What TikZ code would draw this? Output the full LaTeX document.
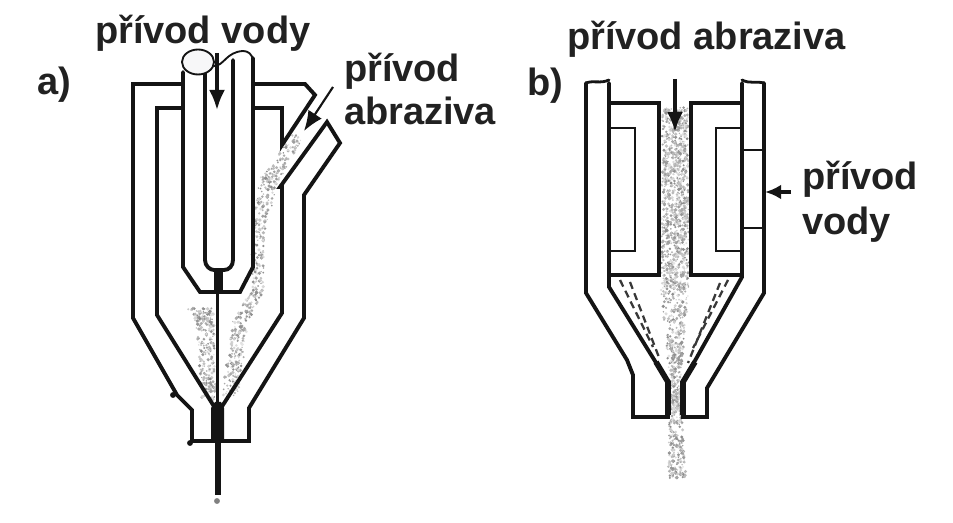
\documentclass[tikz,border=0pt]{standalone}
\usepackage{fontspec}
\setmainfont{Liberation Sans}
\usetikzlibrary{arrows.meta}
\definecolor{ink}{gray}{0.08}
\definecolor{cap}{gray}{0.13}
\tikzset{
  wall/.style={draw=ink,line width=2.9pt,line join=miter,line cap=round},
  thinwall/.style={draw=ink,line width=2.1pt,line join=miter,line cap=round},
  hair/.style={draw=ink,line width=1.4pt,line cap=round},
  dash wall/.style={draw=ink!85,line width=1.7pt,dash pattern=on 5.5pt off 3.5pt},
  flow/.style={draw=ink,line width=2.5pt,-{Latex[length=15pt,width=12pt]}},
  caption/.style={font=\fontsize{28.5pt}{30pt}\selectfont\bfseries,text=cap,anchor=base west,inner sep=0pt,outer sep=0pt}
}
% grit scattered along a segment: x0 y0 halfwidth0 x1 y1 halfwidth1 count
\newcommand{\gritseg}[7]{%
  \foreach \k in {1,...,#7}{%
    \pgfmathsetmacro{\gt}{rnd}%
    \pgfmathsetmacro{\gw}{(#3+(#6-#3)*\gt)*(2*rnd-1)}%
    \pgfmathsetmacro{\gx}{#1+(#4-#1)*\gt+\gw}%
    \pgfmathsetmacro{\gy}{#2+(#5-#2)*\gt+4*(rnd-0.5)}%
    \pgfmathsetmacro{\gr}{0.5+0.9*rnd}%
    \pgfmathsetmacro{\gc}{10+36*rnd}%
    \fill[black!\gc] (\gx,\gy) circle (\gr pt);
  }}
\begin{document}
\begin{tikzpicture}[x=0.75pt,y=-0.75pt]
\useasboundingbox (0,0) rectangle (953,523);
\fill[white] (0,0) rectangle (953,523);
\pgfmathsetseed{4711}
% ---------- grit a)
\gritseg{298}{136}{6}{268}{182}{10}{110}
\gritseg{268}{182}{10}{258}{235}{6}{100}
\gritseg{258}{235}{6}{258}{290}{6}{80}
\gritseg{258}{290}{6}{240}{325}{8}{80}
\gritseg{240}{325}{8}{230}{395}{8}{170}
\gritseg{200}{308}{13}{205}{322}{9}{80}
\gritseg{205}{322}{9}{209}{398}{7}{190}
% ---------- grit b)
\gritseg{675}{108}{13}{675}{290}{14}{1000}
\gritseg{675}{290}{14}{675}{385}{5}{280}
\gritseg{675}{385}{5}{677}{478}{9}{300}
% ---------- figure a) housing
\draw[wall] (183,84) -- (133,84) -- (133,318) -- (177,395) -- (192,410) -- (192,441) -- (249,441) -- (249,408) -- (304,318) -- (304,195) -- (340,143) -- (327,122) -- (280,187) -- (282,187) -- (282,313) -- (221,408);
\draw[wall] (183,108) -- (157,108) -- (157,315) -- (215,408);
\draw[wall] (253,84) -- (305,84) -- (315,95) -- (282,145) -- (282,108) -- (253,108);
% ---------- figure a) water tube
\draw[wall] (183,72) -- (183,267) -- (200,292) -- (240,292) -- (253,267) -- (253,58);
\draw[wall] (205,72) -- (205,260) .. controls (205,266) and (210,270) .. (214,270) -- (224,270) .. controls (229,270) and (233,266) .. (233,260) -- (233,60);
\draw[hair,fill=blue!2!black!3] (198,62) ellipse (16 and 12.5);
\draw[hair] (214,66) .. controls (224,66) and (226,52) .. (243,51) .. controls (248,51) and (252,54) .. (253,60);
% ---------- figure a) jet
\fill[ink] (214,270) rectangle (223,292);
\draw[ink,line width=2.8pt] (217.5,292) -- (217.5,410);
\fill[ink] (211,408) -- (215,402) -- (221,402) -- (224,408) -- (224,441) -- (211,441) -- cycle;
\draw[ink,line width=4.4pt] (218,441) -- (218,495);
\fill[ink] (173,395) circle (2.2pt);
\fill[ink] (190,443) circle (2.2pt);
\fill[black!50] (217,501) circle (2.2pt);
% ---------- figure b) housing
\draw[wall] (586,83) -- (586,293) -- (627,360) -- (633,375) -- (633,417) -- (668,417) -- (668,382) -- (609,287) -- (609,83);
\draw[wall] (764,83) -- (764,293) -- (707,388) -- (707,417) -- (683,417) -- (683,382) -- (742,277) -- (742,83);
\draw[thinwall] (586,83) .. controls (594,80) and (600,84) .. (609,80);
\draw[thinwall] (742,80) .. controls (750,84) and (756,81) .. (764,83);
% throat thickening
\draw[ink,line width=4.2pt] (656,362) -- (668,382) -- (668,415);
\draw[ink,line width=4.2pt] (695,362) -- (683,382) -- (683,415);
% ---------- figure b) coils
\draw[wall] (609,103) -- (659,103) -- (659,275) -- (609,275);
\draw[thinwall] (609,128) -- (635,128) -- (635,251) -- (609,251);
\draw[wall] (742,103) -- (691,103) -- (691,275) -- (742,275);
\draw[thinwall] (742,128) -- (716,128) -- (716,251) -- (742,251);
\draw[thinwall] (742,150) -- (764,150);
\draw[thinwall] (742,228) -- (764,228);
% ---------- figure b) dashed jets
\draw[dash wall] (620,280) -- (653,347);
\draw[dash wall] (630,282) -- (660,360);
\draw[dash wall] (728,280) -- (693,348);
\draw[dash wall] (720,283) -- (688,363);
% ---------- flows
\coordinate (wa0) at (217,53); \coordinate (wa1) at (217,110);
\draw[flow] (wa0) -- (wa1);
\coordinate (aa0) at (333,87); \coordinate (aa1) at (304,131);
\draw[flow,line width=1.6pt] (aa0) -- (aa1);
\coordinate (ab0) at (675,79); \coordinate (ab1) at (675,132);
\draw[flow] (ab0) -- (ab1);
\coordinate (vb0) at (791,192); \coordinate (vb1) at (765,192);
\draw[flow,-{Latex[length=12pt,width=11pt]}] (vb0) -- (vb1);
% ---------- captions
\node[caption] (ta) at (37,95) {a)};
\node[caption] (tb) at (527,96) {b)};
\node[caption] (tv) at (95,44) {přívod vody};
\node[caption] (taa) at (344,82) {přívod};
\node[caption] (tab) at (344,125) {abraziva};
\node[caption] (tc) at (567,50) {přívod abraziva};
\node[caption] (td) at (802,190) {přívod};
\node[caption] (te) at (802,235) {vody};
\end{tikzpicture}
\end{document}
